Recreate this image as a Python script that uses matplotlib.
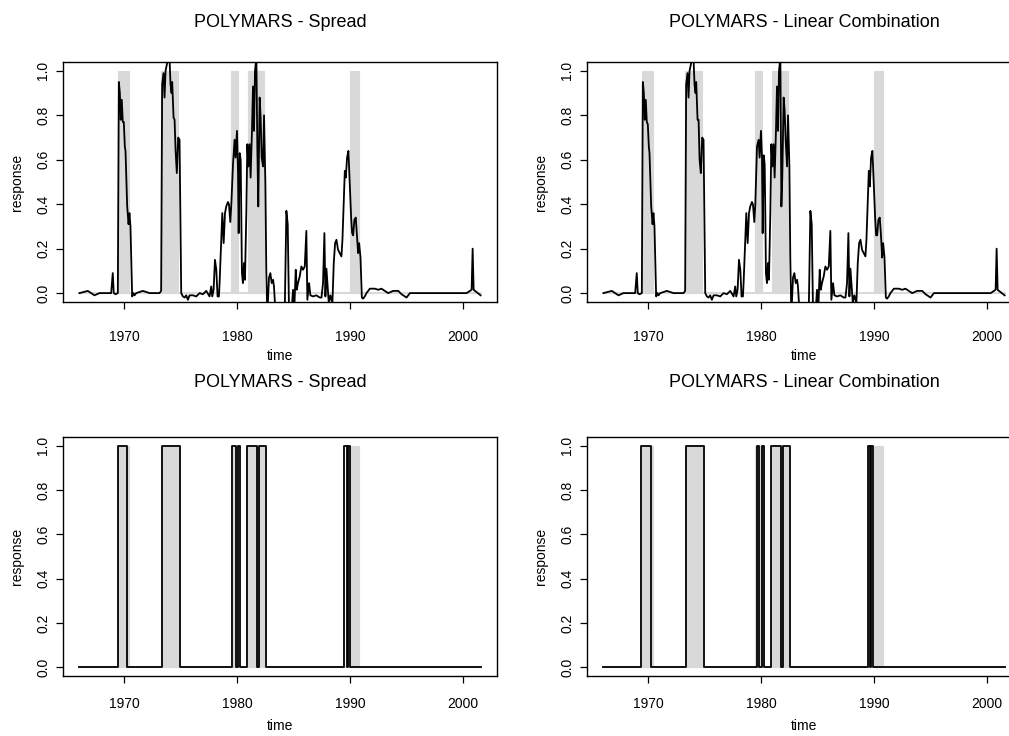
import matplotlib
matplotlib.use("Agg")
import matplotlib.pyplot as plt

plt.rcParams['font.family'] = ['Liberation Sans', 'DejaVu Sans']

# recession shading (gray bars), years
rec_start = [1969.40, 1973.28, 1979.47, 1980.95, 1990.00]
rec_end = [1970.38, 1974.73, 1980.10, 1982.37, 1990.77]
t_first, t_last = 1966.0, 2001.6

# fitted response, POLYMARS with spread
t_fit = [1966.01, 1966.75, 1967.34, 1967.78, 1968.82, 1968.96, 1969.05, 1969.20, 1969.41, 1969.50,
         1969.59, 1969.67, 1969.76, 1969.85, 1969.94, 1970.03, 1970.09, 1970.24, 1970.36, 1970.44,
         1970.53, 1970.68, 1970.80, 1970.89, 1971.04, 1971.63, 1972.22, 1973.11, 1973.25, 1973.34,
         1973.46, 1973.55, 1973.64, 1973.76, 1973.88, 1973.99, 1974.08, 1974.17, 1974.23, 1974.35,
         1974.44, 1974.53, 1974.64, 1974.76, 1974.88, 1975.03, 1975.18, 1975.33, 1975.47, 1975.62,
         1975.77, 1976.07, 1976.36, 1976.66, 1976.95, 1977.25, 1977.54, 1977.69, 1977.78, 1977.90,
         1978.02, 1978.14, 1978.25, 1978.37, 1978.43, 1978.67, 1978.79, 1978.91, 1979.02, 1979.17,
         1979.26, 1979.38, 1979.47, 1979.62, 1979.76, 1979.85, 1979.97, 1980.06, 1980.12, 1980.21,
         1980.30, 1980.36, 1980.41, 1980.50, 1980.59, 1980.68, 1980.80, 1980.89, 1980.98, 1981.09,
         1981.18, 1981.30, 1981.39, 1981.48, 1981.57, 1981.69, 1981.78, 1981.86, 1981.98, 1982.07,
         1982.16, 1982.28, 1982.37, 1982.49, 1982.57, 1982.66, 1982.81, 1982.93, 1983.05, 1983.17,
         1983.25, 1983.40, 1983.61, 1984.20, 1984.35, 1984.47, 1984.59, 1984.79, 1984.94, 1985.03,
         1985.18, 1985.27, 1985.38, 1985.53, 1985.68, 1985.83, 1985.98, 1986.12, 1986.21, 1986.36,
         1986.48, 1986.72, 1987.01, 1987.31, 1987.46, 1987.60, 1987.72, 1987.81, 1987.90, 1987.99,
         1988.11, 1988.25, 1988.43, 1988.55, 1988.67, 1988.79, 1988.93, 1989.08, 1989.23, 1989.32,
         1989.44, 1989.53, 1989.62, 1989.73, 1989.85, 1989.97, 1990.09, 1990.18, 1990.27, 1990.38,
         1990.50, 1990.62, 1990.71, 1990.80, 1990.92, 1991.04, 1991.15, 1991.30, 1991.45, 1991.75,
         1992.19, 1992.49, 1992.78, 1993.08, 1993.37, 1993.82, 1994.26, 1994.56, 1995.00, 1995.30,
         1995.74, 1996.18, 1996.78, 1997.37, 1997.96, 1998.55, 1999.14, 1999.73, 2000.33, 2000.77,
         2000.86, 2000.95, 2001.07, 2001.57]
fit_spread = [0.00, 0.01, -0.01, 0.00, 0.00, 0.09, 0.00, -0.005, 0.00, 0.95,
              0.90, 0.78, 0.87, 0.77, 0.77, 0.66, 0.64, 0.39, 0.31, 0.36,
              0.30, -0.015, 0.00, -0.01, 0.00, 0.01, 0.00, 0.00, 0.01, 0.94,
              0.99, 0.88, 1.00, 1.03, 1.06, 1.06, 0.94, 0.90, 0.95, 0.79,
              0.78, 0.64, 0.54, 0.70, 0.69, 0.00, -0.015, -0.02, -0.01, -0.03,
              -0.01, -0.01, -0.015, 0.00, -0.005, 0.01, -0.015, 0.03, -0.015, 0.015,
              0.15, 0.105, -0.015, -0.015, 0.045, 0.36, 0.225, 0.36, 0.39, 0.41,
              0.40, 0.32, 0.40, 0.58, 0.69, 0.61, 0.73, 0.55, 0.27, 0.63,
              0.60, 0.34, 0.09, 0.045, 0.135, 0.06, 0.36, 0.67, 0.57, 0.67,
              0.52, 0.73, 0.93, 0.73, 1.00, 1.06, 0.64, 0.39, 0.88, 0.79,
              0.61, 0.57, 0.80, 0.49, 0.105, -0.10, 0.07, 0.09, 0.045, 0.06,
              0.03, -0.10, -0.10, -0.10, 0.37, 0.31, -0.10, -0.10, 0.015, -0.10,
              0.105, 0.015, 0.045, 0.075, 0.12, 0.105, 0.12, 0.28, -0.03, 0.045,
              -0.01, -0.015, -0.01, -0.02, -0.02, 0.045, 0.27, -0.015, 0.11, 0.045,
              -0.045, -0.01, -0.045, 0.135, 0.225, 0.24, 0.195, 0.18, 0.165, 0.24,
              0.42, 0.55, 0.52, 0.61, 0.64, 0.49, 0.34, 0.27, 0.26, 0.33,
              0.34, 0.25, 0.18, 0.225, 0.16, -0.02, -0.025, -0.015, 0.00, 0.02,
              0.02, 0.015, 0.02, 0.01, 0.00, 0.01, 0.01, -0.005, -0.02, 0.00,
              0.00, 0.00, 0.00, 0.00, 0.00, 0.00, 0.00, 0.00, 0.00, 0.015,
              0.20, 0.015, 0.01, -0.01]
# fitted response, POLYMARS with linear combination
fit_lin = [0.00, 0.01, -0.01, 0.00, 0.00, 0.09, 0.00, -0.005, 0.00, 0.95,
           0.90, 0.78, 0.87, 0.77, 0.76, 0.66, 0.63, 0.39, 0.31, 0.36,
           0.30, -0.015, 0.00, -0.01, 0.00, 0.01, 0.00, 0.00, 0.01, 0.94,
           0.99, 0.88, 1.00, 1.03, 1.06, 1.06, 0.94, 0.90, 0.95, 0.78,
           0.78, 0.60, 0.54, 0.70, 0.69, 0.00, -0.015, -0.02, -0.01, -0.03,
           -0.01, -0.01, -0.015, 0.00, -0.005, 0.01, -0.015, 0.03, -0.015, 0.015,
           0.15, 0.105, -0.015, -0.015, 0.045, 0.36, 0.225, 0.36, 0.39, 0.41,
           0.40, 0.32, 0.40, 0.66, 0.69, 0.61, 0.73, 0.61, 0.27, 0.62,
           0.58, 0.34, 0.09, 0.045, 0.135, 0.06, 0.36, 0.67, 0.57, 0.67,
           0.52, 0.73, 0.93, 0.73, 1.00, 1.06, 0.39, 0.52, 0.88, 0.82,
           0.69, 0.57, 0.80, 0.57, 0.16, -0.10, 0.07, 0.09, 0.045, 0.06,
           0.03, -0.10, -0.10, -0.10, 0.37, 0.31, -0.10, -0.10, 0.015, -0.10,
           0.105, 0.015, 0.045, 0.075, 0.12, 0.105, 0.12, 0.28, -0.03, 0.045,
           -0.01, -0.015, -0.01, -0.02, -0.02, 0.045, 0.27, -0.015, 0.11, 0.045,
           -0.045, -0.01, -0.045, 0.135, 0.225, 0.24, 0.195, 0.18, 0.165, 0.24,
           0.42, 0.55, 0.48, 0.61, 0.64, 0.49, 0.34, 0.26, 0.26, 0.33,
           0.34, 0.25, 0.16, 0.225, 0.16, -0.02, -0.025, -0.015, 0.00, 0.02,
           0.02, 0.015, 0.02, 0.01, 0.00, 0.01, 0.01, -0.005, -0.02, 0.00,
           0.00, 0.00, 0.00, 0.00, 0.00, 0.00, 0.00, 0.00, 0.00, 0.015,
           0.20, 0.015, 0.01, -0.01]

# classified (0/1) response: periods where prediction = 1
spread_on = [1969.40, 1973.35, 1979.56, 1980.05, 1980.90, 1981.94, 1989.47, 1989.81]
spread_off = [1970.24, 1974.94, 1979.85, 1980.27, 1981.76, 1982.56, 1989.70, 1990.00]
lin_on = [1969.38, 1973.35, 1979.62, 1980.06, 1980.89, 1981.93, 1989.47, 1989.75]
lin_off = [1970.24, 1974.94, 1979.82, 1980.20, 1981.75, 1982.55, 1989.65, 1989.93]

titles = ["POLYMARS - Spread", "POLYMARS - Linear Combination"]
GRAY = "#d9d9d9"


def step_series(on, off):
    xs, ys = [t_first], [0]
    for a, b in zip(on, off):
        xs += [a, a, b, b]
        ys += [0, 1, 1, 0]
    xs.append(t_last)
    ys.append(0)
    return xs, ys


def style_axes(ax, top_row):
    ax.set_xlim(1964.55, 2003.02)
    ax.set_ylim(-0.04, 1.04)
    ax.set_xticks([1970, 1980, 1990, 2000])
    ax.set_yticks([0.0, 0.2, 0.4, 0.6, 0.8, 1.0])
    ax.set_yticklabels(["0.0", "0.2", "0.4", "0.6", "0.8", "1.0"], rotation=90, va="center")
    ax.tick_params(direction="out", length=5, width=0.9, labelsize=10, colors="black")
    ax.tick_params(axis="x", pad=15 if top_row else 10)
    ax.tick_params(axis="y", pad=4)
    for s in ax.spines.values():
        s.set_linewidth(1.0)
    ax.set_xlabel("time", fontsize=10, labelpad=4 if top_row else 6)
    ax.set_ylabel("response", fontsize=10, labelpad=9)


def shade(ax):
    ax.bar(rec_start, [1] * len(rec_start), width=[e - s for s, e in zip(rec_start, rec_end)],
           align="edge", color=GRAY, edgecolor=GRAY, linewidth=0.8, zorder=1)
    ax.plot([t_first, t_last], [0, 0], color=GRAY, lw=1.5, zorder=1)


fig = plt.figure(figsize=(10.09, 7.36), dpi=100)
W = 434 / 1009
axes = [
    fig.add_axes([63 / 1009, 434 / 736, W, 240 / 736]),
    fig.add_axes([587 / 1009, 434 / 736, W, 240 / 736]),
    fig.add_axes([63 / 1009, 60 / 736, W, 239 / 736]),
    fig.add_axes([587 / 1009, 60 / 736, W, 239 / 736]),
]

for ax, fit in zip(axes[:2], [fit_spread, fit_lin]):
    shade(ax)
    ax.plot(t_fit, fit, color="black", lw=1.3, zorder=3)

for ax, (on, off) in zip(axes[2:], [(spread_on, spread_off), (lin_on, lin_off)]):
    shade(ax)
    xs, ys = step_series(on, off)
    ax.plot(xs, ys, color="black", lw=1.3, zorder=3)

for i, ax in enumerate(axes):
    style_axes(ax, i < 2)
    ax.set_title(titles[i % 2], fontsize=13, pad=25.5 if i < 2 else 36)

fig.savefig("out.png", dpi=100)
